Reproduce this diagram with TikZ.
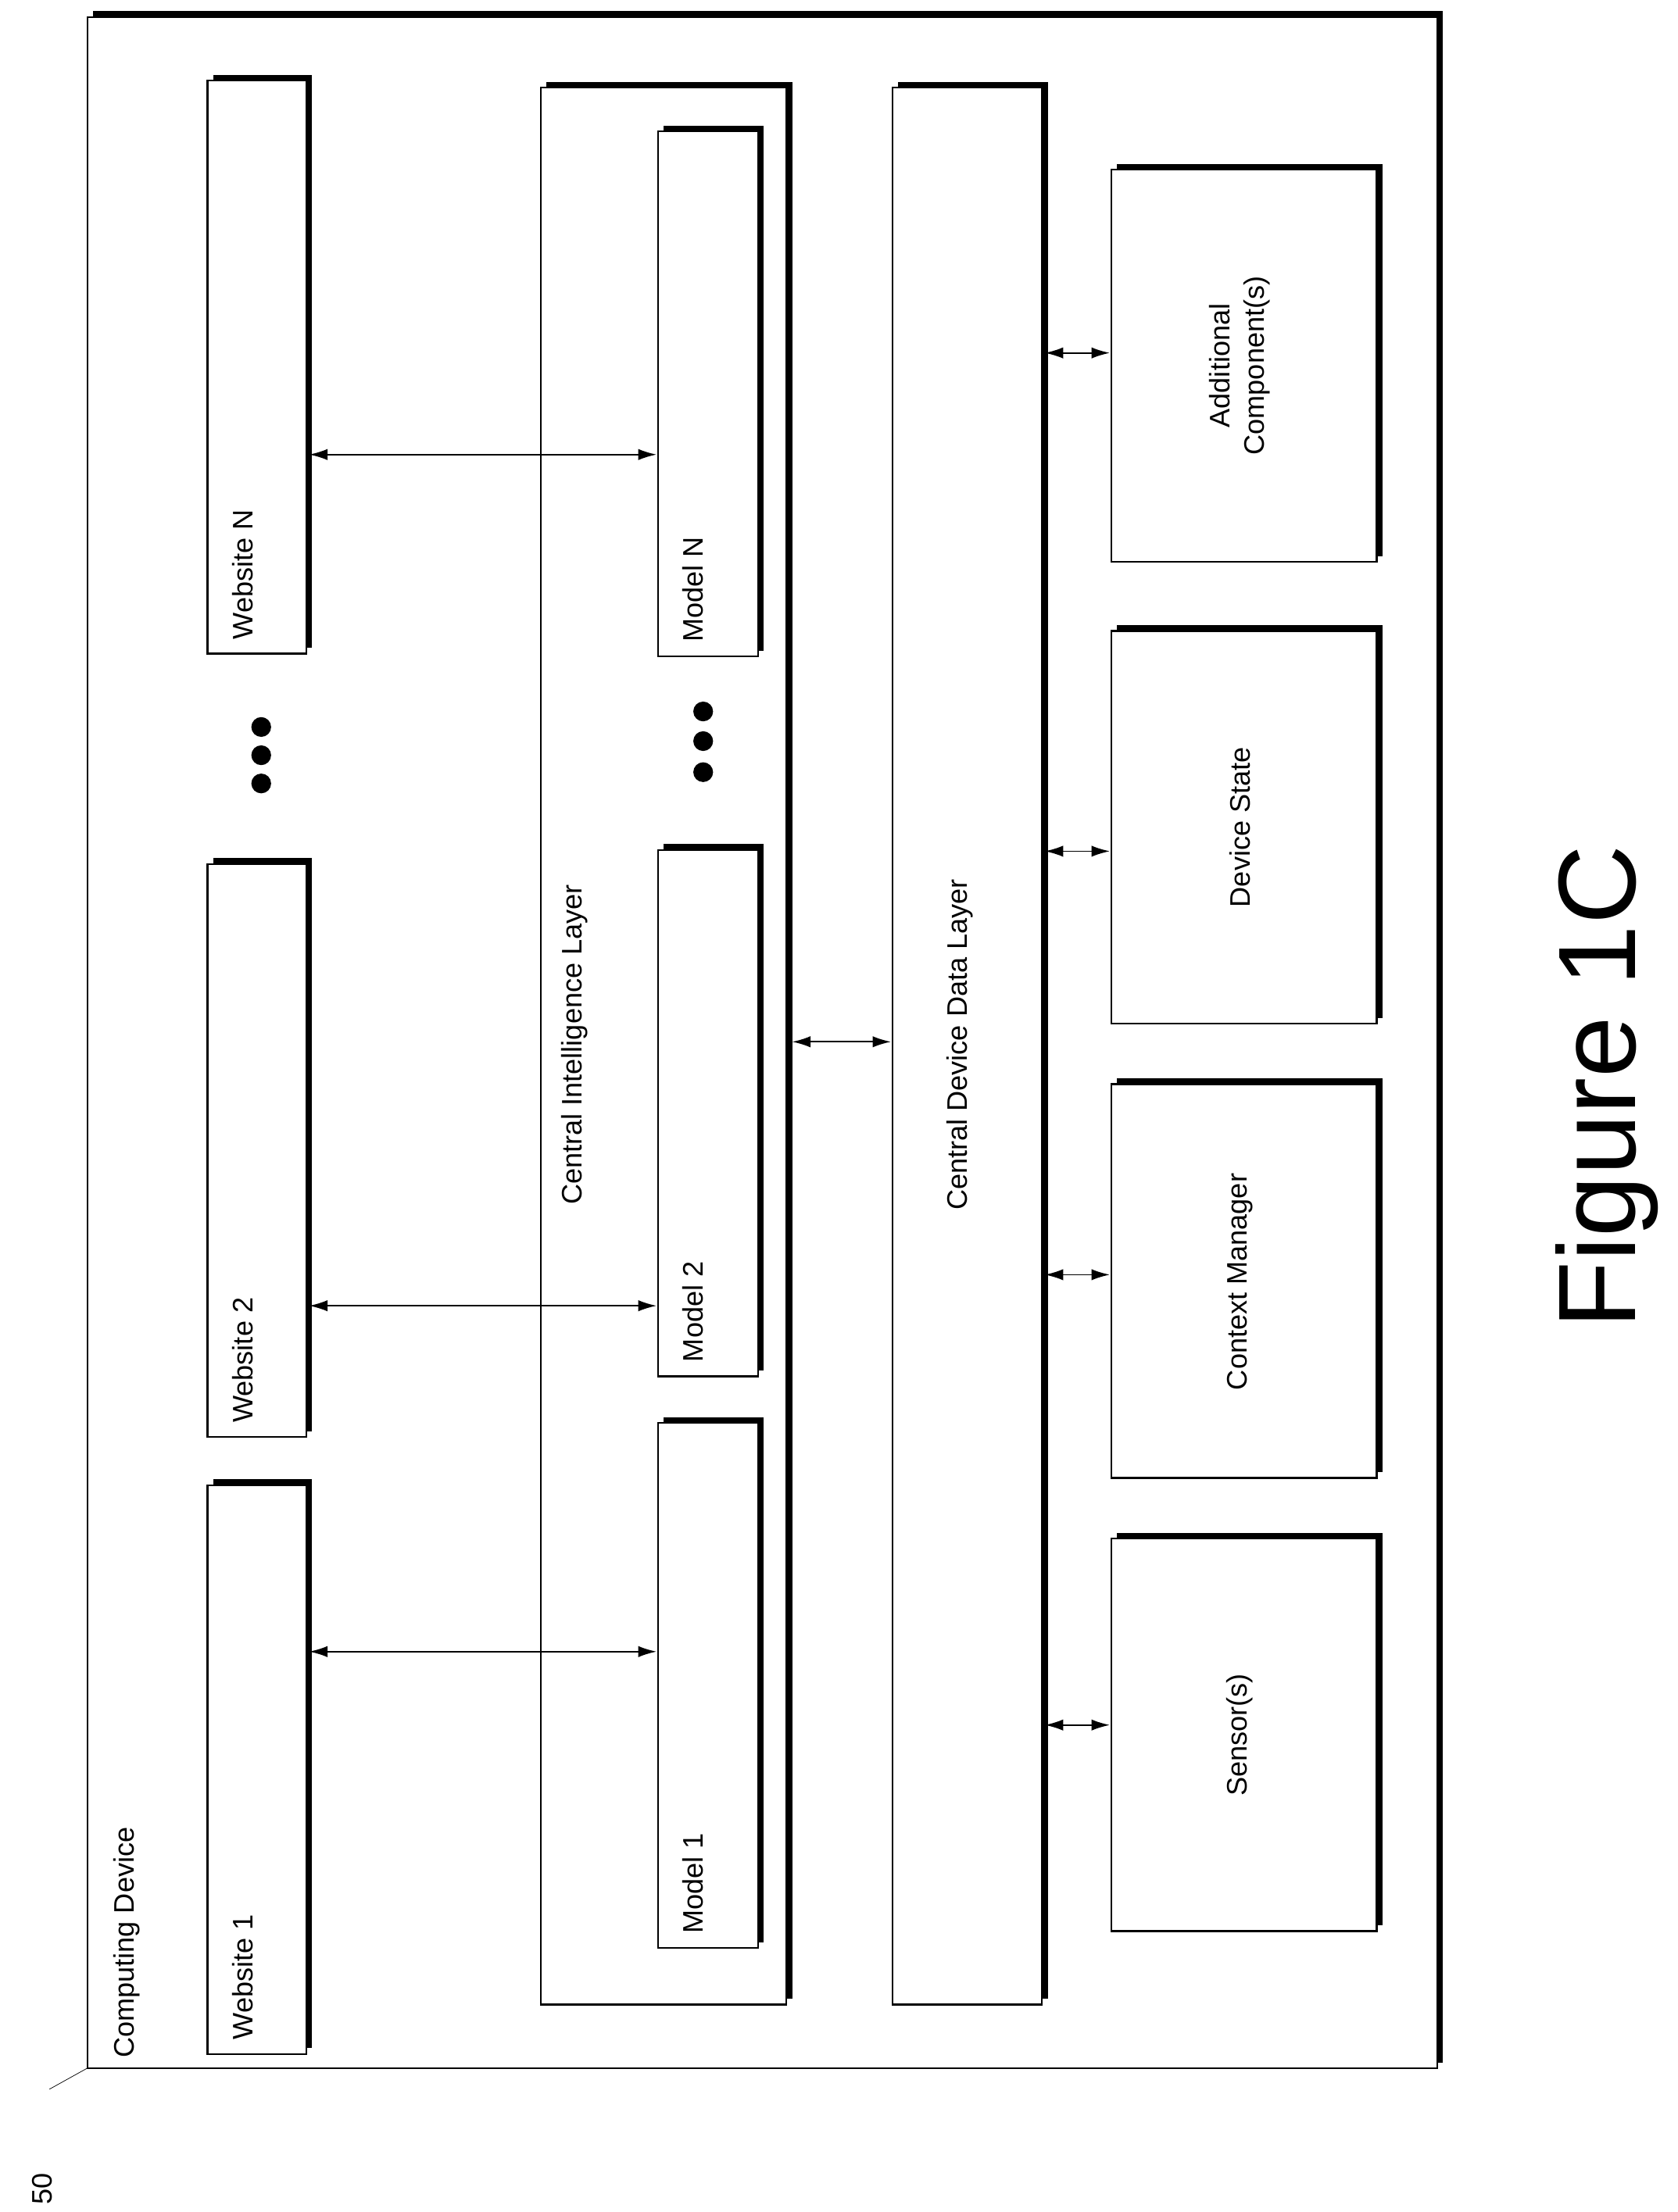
\documentclass[tikz,border=0pt]{standalone}
\usepackage{fontspec}
\setmainfont{Liberation Sans}
\usetikzlibrary{arrows.meta}
\begin{document}
\begin{tikzpicture}[x=1pt,y=-1pt,
  box/.style={draw,line width=1.2pt,fill=white,preaction={fill=black,transform canvas={shift={(4pt,4pt)}}}},
  lbl/.style={rotate=90,font=\fontsize{20}{24}\selectfont,inner sep=0pt},
  arr/.style={<->,line width=1pt,>={Latex[length=13pt,width=8pt]}}]
\useasboundingbox (0,0) rectangle (1188,1567);
\path[box] (62,12) rectangle (1018,1465);
\node[lbl,anchor=north west] (cdl) at (80,1458) {Computing Device};
\node[lbl,anchor=west] (n50) at (30,1562) {50};
\coordinate (l50) at (35,1480);
\draw (l50) -- (62,1465);
% websites
\path[box] (147,1052) rectangle (217,1455);
\node[lbl,anchor=west] (w1) at (172,1445) {Website 1};
\path[box] (147,612) rectangle (217,1018);
\node[lbl,anchor=west] (w2) at (172,1008) {Website 2};
\path[box] (147,57) rectangle (217,463);
\node[lbl,anchor=west] (wn) at (172,453) {Website N};
% CIL
\path[box] (383,62) rectangle (557,1420);
\node[lbl] (cil) at (407,740) {Central Intelligence Layer};
\path[box] (466,1008) rectangle (537,1380);
\node[lbl,anchor=west] (m1) at (491,1370) {Model 1};
\path[box] (466,602) rectangle (537,975);
\node[lbl,anchor=west] (m2) at (491,965) {Model 2};
\path[box] (466,93) rectangle (537,465);
\node[lbl,anchor=west] (mn) at (491,455) {Model N};
% CDDL
\path[box] (632,62) rectangle (738,1420);
\node[lbl] (cddl) at (680,740) {Central Device Data Layer};
% right boxes
\path[box] (787,120) rectangle (975,398);
\node[lbl,align=center] (ac) at (878,259) {Additional\\Component(s)};
\path[box] (787,447) rectangle (975,725);
\node[lbl] (ds) at (878,586) {Device State};
\path[box] (787,768) rectangle (975,1047);
\node[lbl] (cm) at (878,908) {Context Manager};
\path[box] (787,1090) rectangle (975,1368);
\node[lbl] (ss) at (878,1229) {Sensor(s)};
% dots
\foreach \y in {515,535,555} \fill (185,\y) circle (7);
\foreach \y in {504,525,547} \fill (498,\y) circle (7);
% arrows
\coordinate (a1) at (219,1170); \coordinate (b1) at (465,1170);
\coordinate (a2) at (219,925); \coordinate (b2) at (465,925);
\coordinate (a3) at (219,322); \coordinate (b3) at (465,322);
\draw[arr] (a1) -- (b1); \draw[arr] (a2) -- (b2); \draw[arr] (a3) -- (b3);
\coordinate (c1) at (561,738); \coordinate (c2) at (631,738);
\draw[arr] (c1) -- (c2);
\foreach \y in {1222,903,603,250}{\draw[arr] (740,\y) -- (786,\y);}
\node[rotate=90,font=\fontsize{78}{90}\selectfont] (fig) at (1138,770) {Figure 1C};
\end{tikzpicture}
\end{document}
